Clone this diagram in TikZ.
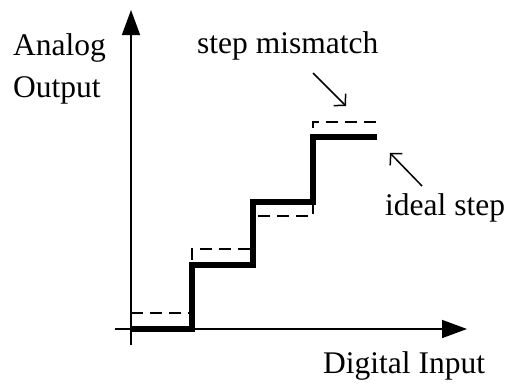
\documentclass[tikz,border=0pt]{standalone}
\usepackage{fontspec}
\setmainfont{Liberation Serif}
\usetikzlibrary{arrows.meta}

\begin{document}
\begin{tikzpicture}[x=1pt, y=-1pt, >=Latex,
    axis/.style={line width=1.5pt, -{Triangle[length=25pt, width=18pt]}},
    ideal/.style={line width=5.5pt, line join=miter},
    real/.style={line width=1.5pt, dash pattern=on 12pt off 7pt},
    pointer/.style={line width=1.5pt, -{Straight Barb[length=8pt, width=17pt, line width=1.5pt]}},
    lbl/.style={font=\fontsize{31.5}{42}\selectfont, inner sep=0pt, anchor=base west, align=left}]
        \useasboundingbox (0,0) rectangle (508,383);

        % --- PARAMETERS ---
        \def\xA{131} \def\xB{192} \def\xC{253} \def\xD{313} \def\xE{377}
        \def\yA{329} \def\yB{265} \def\yC{202} \def\yD{137}

        % --- AXES ---
        \coordinate (O) at (\xA,\yA);
        \coordinate (Xl) at (115,\yA);
        \coordinate (Xr) at (467,\yA);
        \coordinate (Yb) at (\xA,345);
        \coordinate (Yt) at (\xA,10);
        \draw[axis] (Xl) -- (Xr);
        \draw[axis] (Yb) -- (Yt);

        % --- IDEAL STEPS ---
        \draw[ideal] (O) -- (\xB,\yA) -- (\xB,\yB) -- (\xC,\yB) -- (\xC,\yC)
            -- (\xD,\yC) -- (\xD,\yD) -- (\xE,\yD);

        % --- REAL STEPS (DASHED) ---
        \draw[real] (\xA,313) -- (\xB,313);
        \draw[real] (\xB,260) -- (\xB,249) -- (\xC,249);
        \draw[real] (\xC+5,216) -- (\xD,216) -- (\xD,\yC);
        \draw[real] (\xD,128) -- (\xD,122) -- (\xE,122);

        % --- LABELS ---
        \node[lbl] (analog) at (13,97) {Analog\\Output};
        \node[lbl] (digital) at (323,373) {Digital Input};
        \node[lbl] (mismatch) at (197,53) {step mismatch};
        \node[lbl] (idealstep) at (385,215) {ideal step};

        % --- POINTERS ---
        \coordinate (mmTail) at (313,73);
        \coordinate (mmHead) at (346,106);
        \coordinate (isTail) at (422,186);
        \coordinate (isHead) at (390,153);
        \draw[pointer] (mmTail) -- (mmHead);
        \draw[pointer] (isTail) -- (isHead);
\end{tikzpicture}
\end{document}
